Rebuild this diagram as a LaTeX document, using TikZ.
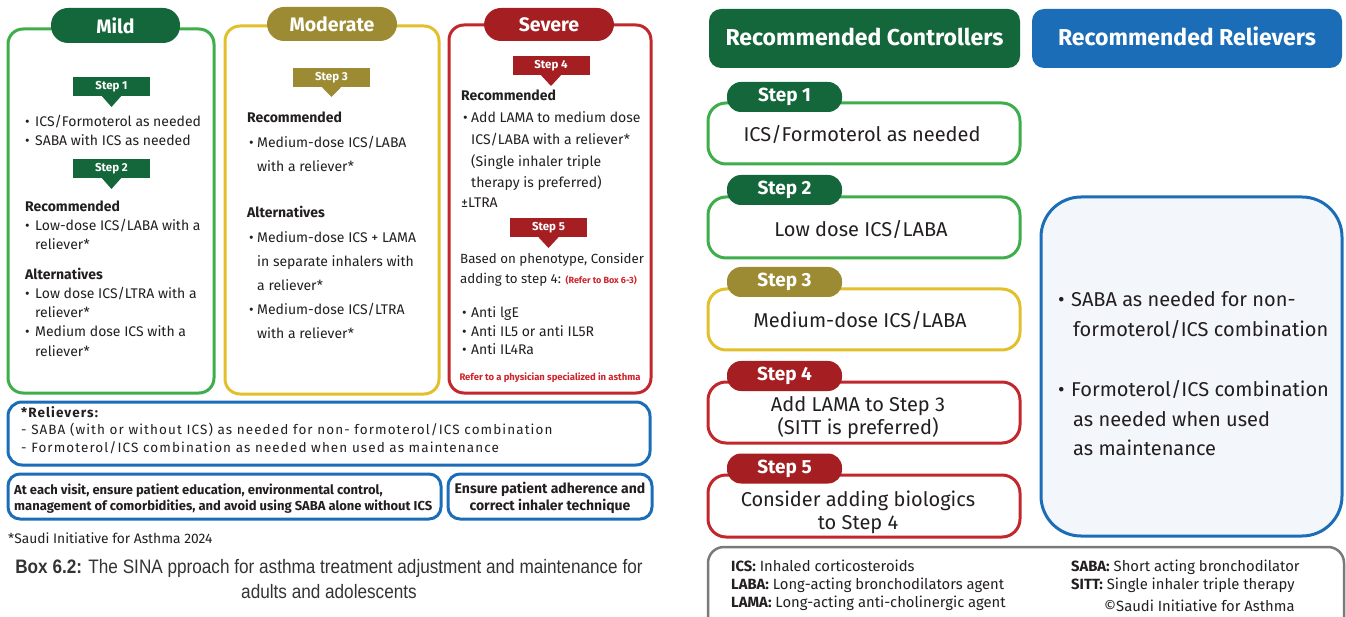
\documentclass[tikz,border=0pt]{standalone}
\usepackage{fontspec}
\setmainfont{Fira Sans}
\newfontfamily\capfont[FakeStretch=0.88]{Liberation Sans}
\newfontfamily\relfont[LetterSpace=8]{Fira Sans}

\definecolor{dgreen}{HTML}{14673A}
\definecolor{lgreen}{HTML}{3DAE4A}
\definecolor{olive}{HTML}{9D8B34}
\definecolor{ylw}{HTML}{E1C02C}
\definecolor{dred}{HTML}{A41E22}
\definecolor{rbord}{HTML}{C1272D}
\definecolor{blu}{HTML}{1B6DB8}
\definecolor{paleblue}{HTML}{F3F6FA}
\definecolor{ink}{HTML}{231F20}
\definecolor{gborder}{HTML}{7A7A7A}
\definecolor{capgray}{HTML}{333333}
\definecolor{notered}{HTML}{D0242B}

% box from its corners: name, style, x1, y1, x2, y2
\newcommand\rbox[6]{\node[#2, minimum width={#5-#3}, minimum height={#6-#4}] (#1) at ({(#3+#5)/2},{(#4+#6)/2}) {};}
% step tab with a pointer below: name, colour, cx, cy, tip y, label
\newcommand\steptab[6]{%
  \node[tabbox, fill=#2] (#1) at (#3,#4) {#6};
  \fill[#2] ([xshift=-10pt,yshift=0.5pt]#1.south) -- ([xshift=10pt,yshift=0.5pt]#1.south) -- (#3,#5) -- cycle;}
\newcommand\bul[1][10pt]{\makebox[#1][l]{\textbullet}}

\begin{document}
\begin{tikzpicture}[x=1pt,y=-1pt,
  panel/.style={draw=#1, line width=3pt, rounded corners=15, fill=white, inner sep=0},
  pill/.style={fill=#1, rounded corners=17, inner sep=0, text=white, font=\bfseries\fontsize{19.5}{20}\selectfont},
  tabbox/.style={minimum width=77, minimum height=19, inner sep=0, text=white, font=\bfseries\fontsize{11.5}{12}\selectfont},
  t/.style={inner sep=0, text=ink, anchor=base west, font=\fontsize{14}{16}\selectfont},
  th/.style={t, font=\bfseries\fontsize{14}{16}\selectfont},
  rel/.style={inner sep=0, text=ink, anchor=base west, font=\relfont\fontsize{13.5}{15}\selectfont},
  note/.style={inner sep=0, text=ink, font=\bfseries\fontsize{13}{15}\selectfont},
  big/.style={inner sep=0, text=ink, anchor=base, font=\fontsize{20}{22}\selectfont},
  rtab/.style={fill=#1, rounded corners=14, minimum width=115, minimum height=30, inner sep=0, text=white, font=\bfseries\fontsize{19}{20}\selectfont},
  lg/.style={inner sep=0, text=ink, anchor=base west, font=\fontsize{14.8}{16}\selectfont},
  captxt/.style={inner sep=0, text=capgray, anchor=base, font=\capfont\fontsize{19.5}{21}\selectfont}]
\clip (0,0) rectangle (1346,617);

% ---------- Mild ----------
\rbox{mild}{panel=lgreen}{8}{29}{214}{393}
\node[pill=dgreen, minimum width=129, minimum height=35] (mildT) at (115.5,25.5) {Mild};
\steptab{s1}{dgreen}{111.5}{86.5}{107}{Step 1}
\node[t] (m1) at (25,127) {\bul ICS/Formoterol as needed};
\node[t] (m2) at (25,146) {\bul SABA with ICS as needed};
\steptab{s2}{dgreen}{111.5}{168.5}{189}{Step 2}
\node[th] (m3) at (25,212) {Recommended};
\node[t] (m4) at (25,231) {\bul Low-dose ICS/LABA with a};
\node[t] (m5) at (35,250) {reliever*};
\node[th] (m6) at (25,280) {Alternatives};
\node[t] (m7) at (25,299) {\bul Low dose ICS/LTRA with a};
\node[t] (m8) at (35,318) {reliever*};
\node[t] (m9) at (25,337) {\bul Medium dose ICS with a};
\node[t] (m10) at (35,356) {reliever*};

% ---------- Moderate ----------
\rbox{mod}{panel=ylw}{225}{26}{439}{394}
\node[pill=olive, minimum width=130, minimum height=34] (modT) at (332,24) {Moderate};
\steptab{s3}{olive}{331.5}{77.5}{97}{Step 3}
\node[th] (d1) at (247,123) {Recommended};
\node[t] (d2) at (249,148) {\bul[8pt]Medium-dose ICS/LABA};
\node[t] (d3) at (257,172) {with a reliever*};
\node[th] (d4) at (247,218) {Alternatives};
\node[t] (d5) at (249,243) {\bul[8pt]Medium-dose ICS + LAMA};
\node[t] (d6) at (257,267) {in separate inhalers with};
\node[t] (d7) at (257,291) {a reliever*};
\node[t] (d8) at (249,315) {\bul[8pt]Medium-dose ICS/LTRA};
\node[t] (d9) at (257,338) {with a reliever*};

% ---------- Severe ----------
\rbox{sev}{panel=rbord}{449}{25}{651}{393}
\node[pill=dred, minimum width=130, minimum height=33] (sevT) at (549,24.5) {Severe};
\steptab{s4}{dred}{551}{66}{86}{Step 4}
\node[th] (v1) at (461,101) {Recommended};
\node[t] (v2) at (463,123) {\bul[8pt]Add LAMA to medium dose};
\node[t] (v3) at (471,145) {ICS/LABA with a reliever*};
\node[t] (v4) at (471,167) {(Single inhaler triple};
\node[t] (v5) at (471,188) {therapy is preferred)};
\node[t] (v6) at (461,208) {±LTRA};
\steptab{s5}{dred}{548.5}{228}{248}{Step 5}
\node[t, font=\fontsize{13.3}{15}\selectfont] (v7) at (460,264) {Based on phenotype, Consider};
\node[t, font=\fontsize{13.3}{15}\selectfont] (v8) at (460,284) {adding to step 4: {\color{notered}\bfseries\fontsize{9}{10}\selectfont(Refer to Box 6-3)}};
\node[t] (v9) at (462,318) {\bul[9pt]Anti lgE};
\node[t] (v10) at (462,337) {\bul[9pt]Anti IL5 or anti IL5R};
\node[t] (v11) at (462,355) {\bul[9pt]Anti IL4Ra};
\node[inner sep=0, anchor=base, text=notered, font=\bfseries\fontsize{9.5}{10}\selectfont] (v12) at (550,380) {Refer to a physician specialized in asthma};

% ---------- Relievers and notes ----------
\rbox{relbox}{panel=blu, rounded corners=14}{8}{402}{650}{465}
\node[rel, font=\relfont\bfseries\fontsize{13.5}{15}\selectfont] (r1) at (21,417) {*Relievers:};
\node[rel] (r2) at (21,434) {- SABA (with or without ICS) as needed for non- formoterol/ICS combination};
\node[rel] (r3) at (21,452) {- Formoterol/ICS combination as needed when used as maintenance};
\rbox{visit}{panel=blu, rounded corners=12}{8}{474}{441}{519}
\node[note, anchor=base west] (n1) at (14,494) {At each visit, ensure patient education, environmental control,};
\node[note, anchor=base west] (n2) at (14,510) {management of comorbidities, and avoid using SABA alone without ICS};
\rbox{adh}{panel=blu, rounded corners=12}{448}{474}{652}{519}
\node[note, anchor=base, font=\bfseries\fontsize{14}{15}\selectfont] (n3) at (550,493) {Ensure patient adherence and};
\node[note, anchor=base, font=\bfseries\fontsize{14}{15}\selectfont] (n4) at (550,510) {correct inhaler technique};
\node[t, font=\fontsize{13.8}{15}\selectfont] (src) at (8,543) {*Saudi Initiative for Asthma 2024};
\node[captxt] (c1) at (329,573) {\textbf{Box 6.2:} The SINA pproach for asthma treatment adjustment and maintenance for};
\node[captxt] (c2) at (329,598) {adults and adolescents};

% ---------- Right panel: headers ----------
\rbox{ctrl}{fill=dgreen, rounded corners=12, inner sep=0}{709}{9}{1020}{68}
\node[inner sep=0, text=white, anchor=base, font=\bfseries\fontsize{23}{25}\selectfont] (ctrlT) at (864.5,46) {Recommended Controllers};
\rbox{relv}{fill=blu, rounded corners=12, inner sep=0}{1032}{9}{1342}{68}
\node[inner sep=0, text=white, anchor=base, font=\bfseries\fontsize{23}{25}\selectfont] (relvT) at (1187,46) {Recommended Relievers};

% ---------- Right panel: steps ----------
\rbox{b1}{panel=lgreen, rounded corners=18}{708}{103}{1020}{164}
\node[rtab=dgreen] (t1) at (784.5,97) {Step 1};
\node[big] (x1) at (862,142) {ICS/Formoterol as needed};

\rbox{b2}{panel=lgreen, rounded corners=18}{708}{197}{1020}{258}
\node[rtab=dgreen] (t2) at (784.5,190) {Step 2};
\node[big] (x2) at (861,237) {Low dose ICS/LABA};

\rbox{b3}{panel=ylw, rounded corners=18}{708}{289}{1020}{350}
\node[rtab=olive] (t3) at (784.5,282) {Step 3};
\node[big] (x3) at (860,328) {Medium-dose ICS/LABA};

\rbox{b4}{panel=rbord, rounded corners=18}{708}{382}{1020}{443}
\node[rtab=dred] (t4) at (784.5,376) {Step 4};
\node[big] (x4) at (858,411) {Add LAMA to Step 3};
\node[big] (x5) at (858,434) {(SITT is preferred)};

\rbox{b5}{panel=rbord, rounded corners=18}{708}{475}{1020}{537}
\node[rtab=dred] (t5) at (784.5,468.5) {Step 5};
\node[big] (x6) at (858,506) {Consider adding biologics};
\node[big] (x7) at (858,529) {to Step 4};

% ---------- Right panel: relievers ----------
\rbox{rb}{panel=blu, fill=paleblue, rounded corners=40}{1041}{197}{1342}{536}
\node[big, anchor=base west] (y1) at (1058,307) {\bul[13pt]SABA as needed for non-};
\node[big, anchor=base west] (y2) at (1073,337) {formoterol/ICS combination};
\node[big, anchor=base west] (y3) at (1058,396) {\bul[13pt]Formoterol/ICS combination};
\node[big, anchor=base west] (y4) at (1073,426) {as needed when used};
\node[big, anchor=base west] (y5) at (1073,455) {as maintenance};

% ---------- Abbreviations ----------
\rbox{leg}{draw=gborder, line width=2.5pt, rounded corners=16, inner sep=0}{708}{547}{1344}{640}
\node[lg] (a1) at (731,571) {\textbf{ICS:} Inhaled corticosteroids};
\node[lg] (a2) at (731,589) {\textbf{LABA:} Long-acting bronchodilators agent};
\node[lg] (a3) at (731,607) {\textbf{LAMA:} Long-acting anti-cholinergic agent};
\node[lg] (a4) at (1071,571) {\textbf{SABA:} Short acting bronchodilator};
\node[lg] (a5) at (1071,589) {\textbf{SITT:} Single inhaler triple therapy};
\node[lg] (a6) at (1104,611) {©Saudi Initiative for Asthma};
\end{tikzpicture}
\end{document}
